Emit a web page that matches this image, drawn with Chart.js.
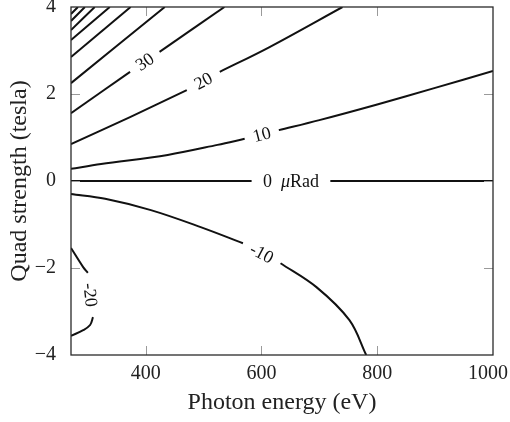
<!DOCTYPE html>
<html>
<head>
<meta charset="utf-8">
<script src="https://cdn.jsdelivr.net/npm/chart.js@4.4.1/dist/chart.umd.min.js"></script>
<style>
  html, body { margin: 0; padding: 0; background: #fff; }
  #wrap { width: 510px; height: 422px; }
</style>
</head>
<body>
<div id="wrap"><canvas id="contourChart" width="510" height="422"></canvas></div>
<script>
// axis ticks
const xTicks = [400, 600, 800, 1000];
const yTicks = [-4, -2, 0, 2, 4];

// contour segments, [photon energy eV, quad strength T], split where the label sits
const contour0a = [[271, 0], [583, 0]];
const contour0b = [[719, 0], [1000, 0]];
const contour10a = [[271, 0.28], [323, 0.39], [438, 0.60], [524, 0.83], [571, 0.97]];
const contour10b = [[630, 1.17], [700, 1.40], [800, 1.76], [900, 2.14], [1000, 2.53]];
const contour20a = [[271, 0.85], [373, 1.47], [471, 2.09]];
const contour20b = [[528, 2.51], [614, 3.08], [740, 4.0]];
const contour30a = [[271, 1.56], [373, 2.51]];
const contour30b = [[424, 2.97], [536, 4.0]];
const contour40 = [[271, 2.25], [433, 4.0]];
const contour50 = [[271, 2.85], [374, 4.0]];
const contour60 = [[271, 3.24], [338, 4.0]];
const contour70 = [[271, 3.47], [312, 4.0]];
const contour80 = [[271, 3.68], [295, 4.0]];
const contour90 = [[271, 3.84], [283, 4.0]];
const contourM10a = [[271, -0.30], [330, -0.41], [409, -0.67], [495, -1.06], [568, -1.43]];
const contourM10b = [[633, -1.89], [695, -2.44], [752, -3.20], [781, -4.0]];
const contourM20a = [[271, -1.54], [292, -1.98], [300, -2.11]];
const contourM20b = [[309, -3.13], [304, -3.31], [292, -3.43], [271, -3.56]];

// inline labels: text plus the two segments whose gap holds it
const contourLabels = [
  { text: '30', from: contour30a, to: contour30b },
  { text: '20', from: contour20a, to: contour20b },
  { text: '10', from: contour10a, to: contour10b },
  { text: '0 μRad', from: contour0a, to: contour0b },
  { text: '-10', from: contourM10a, to: contourM10b },
  { text: '-20', from: contourM20a, to: contourM20b },
];

const segments = [
  contour0a, contour0b, contour10a, contour10b, contour20a, contour20b,
  contour30a, contour30b, contour40, contour50, contour60, contour70,
  contour80, contour90, contourM10a, contourM10b, contourM20a, contourM20b,
];

const SERIF = "'Liberation Serif', 'DejaVu Serif', serif";

const framePlugin = {
  id: 'frameTicks',
  afterDraw(chart) {
    const { ctx, chartArea, scales, width } = chart;
    const { left, right, top, bottom } = chartArea;
    ctx.save();
    // inward tick marks on all four sides
    ctx.strokeStyle = '#9a9a9a';
    ctx.lineWidth = 1;
    const len = 9;
    xTicks.forEach(v => {
      const x = Math.round(scales.x.getPixelForValue(v)) + 0.5;
      if (x > right - 2) return;
      ctx.beginPath();
      ctx.moveTo(x, bottom); ctx.lineTo(x, bottom - len);
      ctx.moveTo(x, top); ctx.lineTo(x, top + len);
      ctx.stroke();
    });
    yTicks.forEach(v => {
      const y = Math.round(scales.y.getPixelForValue(v)) + 0.5;
      if (y < top + 2 || y > bottom - 2) return;
      ctx.beginPath();
      ctx.moveTo(left, y); ctx.lineTo(left + len, y);
      ctx.moveTo(right, y); ctx.lineTo(right - len, y);
      ctx.stroke();
    });
    ctx.strokeStyle = '#2a2a2a';
    ctx.lineWidth = 1.3;
    ctx.strokeRect(left, top, right - left, bottom - top);

    // x tick labels, kept inside the canvas so 1000 is not cut
    ctx.fillStyle = '#222';
    ctx.font = '20px ' + SERIF;
    ctx.textAlign = 'center';
    ctx.textBaseline = 'middle';
    xTicks.forEach(v => {
      const label = String(v);
      const w = ctx.measureText(label).width;
      let x = scales.x.getPixelForValue(v);
      x = Math.min(x, width - 2 - w / 2);
      ctx.fillText(label, x, bottom + 19);
    });
    ctx.restore();
  },
};

const labelPlugin = {
  id: 'contourLabels',
  afterDatasetsDraw(chart) {
    const { ctx, scales } = chart;
    ctx.save();
    ctx.fillStyle = '#111';
    ctx.textBaseline = 'middle';
    contourLabels.forEach(l => {
      const a = l.from[l.from.length - 1];
      const b = l.to[0];
      const ax = scales.x.getPixelForValue(a[0]), ay = scales.y.getPixelForValue(a[1]);
      const bx = scales.x.getPixelForValue(b[0]), by = scales.y.getPixelForValue(b[1]);
      const angle = Math.atan2(by - ay, bx - ax);
      ctx.save();
      ctx.translate((ax + bx) / 2, (ay + by) / 2);
      ctx.rotate(angle);
      // split out the mu so it can be set in italic
      const parts = l.text.split('μ');
      const pieces = [];
      parts.forEach((p, i) => {
        if (i > 0) pieces.push({ t: 'μ', font: 'italic 18px ' + SERIF });
        if (p) pieces.push({ t: p.replace(' ', '  '), font: '18px ' + SERIF });
      });
      let total = 0;
      pieces.forEach(p => { ctx.font = p.font; p.w = ctx.measureText(p.t).width; total += p.w; });
      let x = -total / 2;
      ctx.textAlign = 'left';
      pieces.forEach(p => { ctx.font = p.font; ctx.fillText(p.t, x, 1); x += p.w; });
      ctx.restore();
    });
    ctx.restore();
  },
};

function noPad(scale) {
  scale.paddingLeft = 0;
  scale.paddingRight = 0;
  scale.paddingTop = 0;
  scale.paddingBottom = 0;
}

new Chart(document.getElementById('contourChart'), {
  type: 'scatter',
  data: {
    datasets: segments.map(seg => ({
      data: seg.map(p => ({ x: p[0], y: p[1] })),
      showLine: true,
      borderColor: '#111',
      borderWidth: 2,
      pointRadius: 0,
      tension: 0.35,
      fill: false,
    })),
  },
  options: {
    responsive: false,
    animation: false,
    events: [],
    layout: { padding: { top: 7, right: 17, left: 0, bottom: 0 } },
    plugins: { legend: { display: false }, tooltip: { enabled: false } },
    scales: {
      x: {
        type: 'linear',
        min: 271,
        max: 1000,
        afterBuildTicks: s => { s.ticks = xTicks.map(v => ({ value: v })); },
        afterFit: s => { s.height = 67; noPad(s); },
        grid: { display: false },
        border: { display: false },
        ticks: { display: false },
        title: { display: true, text: 'Photon energy (eV)', font: { family: SERIF, size: 24 }, color: '#222', padding: { top: 0, bottom: 5 } },
      },
      y: {
        type: 'linear',
        min: -4,
        max: 4,
        afterBuildTicks: s => { s.ticks = yTicks.map(v => ({ value: v })); },
        afterFit: s => { s.width = 71; noPad(s); },
        grid: { display: false },
        border: { display: false },
        ticks: {
          font: { family: SERIF, size: 20 },
          color: '#222',
          padding: 7,
          callback: v => (v < 0 ? '\u2212' + Math.abs(v) : String(v)),
        },
        title: { display: true, text: 'Quad strength (tesla)', font: { family: SERIF, size: 24 }, color: '#222', padding: { top: 5, bottom: 0 } },
      },
    },
  },
  plugins: [framePlugin, labelPlugin],
});
</script>
</body>
</html>
